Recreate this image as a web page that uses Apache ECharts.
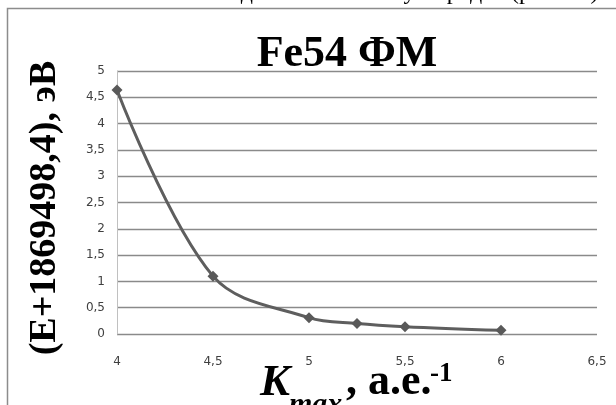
<!DOCTYPE html>
<html>
<head>
<meta charset="utf-8">
<script src="https://cdn.jsdelivr.net/npm/echarts@6/dist/echarts.min.js"></script>
<style>
  html, body { margin: 0; padding: 0; background: #fff; }
  #chart { width: 616px; height: 405px; }
</style>
</head>
<body>
<div id="chart"></div>
<script>
// Kmax values (a.e.^-1) and energy (E+1869498,4), eV
var kmax = [4, 4.5, 5, 5.25, 5.5, 6];
var energy = [4.64, 1.10, 0.31, 0.20, 0.14, 0.07];
var titleText = 'Fe54 ФМ';
var yName = '(E+1869498,4), эВ';

var pts = [];
for (var i = 0; i < kmax.length; i++) {
    pts.push([kmax[i], energy[i]]);
}

function comma(v) { return String(v).replace('.', ','); }

var serif = 'Liberation Serif';
var sp = '\u00a0\u00a0\u00a0';   // justified text in the page above -> wide gaps
var topLine = ['железа', 'и', 'железа', 'с', 'одним', 'атомом', 'углерода', '(рис.', '5)'].join(sp);

var chart = echarts.init(document.getElementById('chart'));

var option = {
    backgroundColor: '#fff',
    animation: false,
    title: {
        text: titleText,
        left: 342, top: 28,
        textAlign: 'center',
        textStyle: { fontFamily: serif, fontWeight: 'bold', fontSize: 44, color: '#000' }
    },
    grid: { left: 117, right: 19, top: 71, bottom: 71 },
    xAxis: {
        type: 'value',
        min: 4, max: 6.5, interval: 0.5,
        axisLine: { show: false },
        axisTick: { show: false },
        splitLine: { show: false },
        axisLabel: {
            margin: 22,
            formatter: comma,
            fontFamily: 'DejaVu Sans', fontSize: 12, color: '#404040'
        }
    },
    yAxis: {
        type: 'value',
        min: 0, max: 5, interval: 0.5,
        axisLine: { show: true, lineStyle: { color: '#c0c0c0', width: 1 } },
        axisTick: { show: false },
        splitLine: { lineStyle: { color: '#8a8a8a', width: 1.3 } },
        axisLabel: {
            margin: 12,
            formatter: comma,
            fontFamily: 'DejaVu Sans', fontSize: 12, color: '#404040'
        }
    },
    graphic: [
        {
            type: 'rect', silent: true,
            shape: { x: 7.5, y: 8.5, width: 700, height: 500 },
            style: { fill: 'none', stroke: '#8c8c8c', lineWidth: 1.5 }
        },
        {
            type: 'text', silent: true, x: -6, y: -19.5,
            style: { text: topLine, font: '24px "Liberation Serif"', fill: '#000' }
        },
        {
            type: 'text', silent: true, x: 45, y: 208,
            rotation: Math.PI / 2,
            style: {
                text: yName, font: 'bold 38px "Liberation Serif"',
                fill: '#000', align: 'center', verticalAlign: 'middle'
            }
        },
        { type: 'text', silent: true, x: 260, y: 383, style: { text: 'K', font: 'italic bold 45px "Liberation Serif"', fill: '#000', verticalAlign: 'middle' } },
        { type: 'text', silent: true, x: 289, y: 405, style: { text: 'max', font: 'italic bold 30px "Liberation Serif"', fill: '#000', verticalAlign: 'middle' } },
        { type: 'text', silent: true, x: 346, y: 383, style: { text: ', а.е.', font: 'bold 44px "Liberation Serif"', fill: '#000', verticalAlign: 'middle' } },
        { type: 'text', silent: true, x: 430, y: 374, style: { text: '-1', font: 'bold 27px "Liberation Serif"', fill: '#000', verticalAlign: 'middle' } }
    ],
    series: [{
        type: 'line',
        data: pts,
        smooth: 0.35,
        symbol: 'diamond',
        symbolSize: 11,
        itemStyle: { color: '#595959' },
        lineStyle: { color: '#5e5e5e', width: 3 }
    }]
};
chart.setOption(option);
</script>
</body>
</html>
